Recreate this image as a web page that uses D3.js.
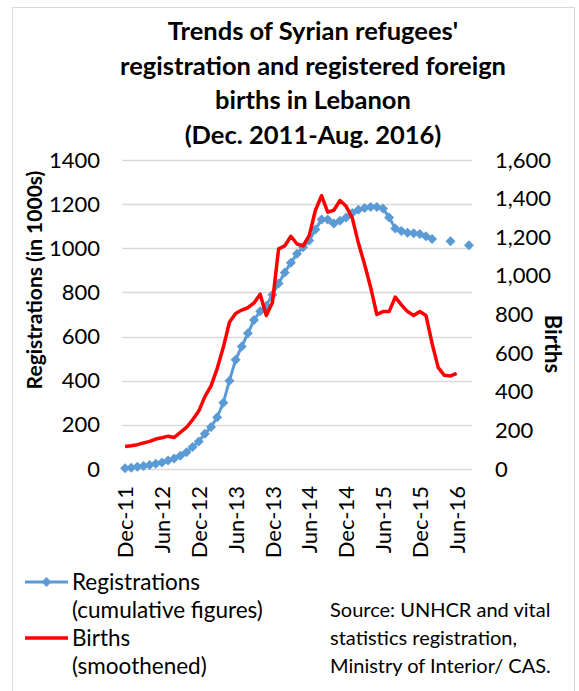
<!DOCTYPE html>
<meta charset="utf-8">
<body style="margin:0;background:#fff">
<svg width="579" height="691"></svg>
<script src="https://d3js.org/d3.v7.min.js"></script>
<script>

// monthly categories, Dec 2011 - Aug 2016
var months = ["Dec-11","Jan-12","Feb-12","Mar-12","Apr-12","May-12","Jun-12","Jul-12","Aug-12","Sep-12","Oct-12","Nov-12",
  "Dec-12","Jan-13","Feb-13","Mar-13","Apr-13","May-13","Jun-13","Jul-13","Aug-13","Sep-13","Oct-13","Nov-13",
  "Dec-13","Jan-14","Feb-14","Mar-14","Apr-14","May-14","Jun-14","Jul-14","Aug-14","Sep-14","Oct-14","Nov-14",
  "Dec-14","Jan-15","Feb-15","Mar-15","Apr-15","May-15","Jun-15","Jul-15","Aug-15","Sep-15","Oct-15","Nov-15",
  "Dec-15","Jan-16","Feb-16","Mar-16","Apr-16","May-16","Jun-16","Jul-16","Aug-16"];

// registrations in 1000s (cumulative), null = no figure
var registrations = [3,6,10,14,18,24,30,38,48,60,76,100,
  125,160,190,235,300,400,495,555,615,675,715,740,
  790,840,890,935,975,1005,1035,1085,1130,1130,1112,1125,
  1140,1160,1175,1182,1187,1187,1180,1140,1090,1078,1070,1068,
  1065,1055,1042,null,null,1032,null,null,1014];

// births (smoothened)
var births = [116,120,126,135,143,155,162,170,163,190,215,255,
  300,375,430,520,630,760,805,823,835,860,905,795,
  862,1140,1155,1205,1165,1155,1210,1340,1415,1330,1340,1390,
  1360,1300,1170,1060,940,800,815,815,890,850,815,795,
  815,795,650,525,485,482,495,null,null];

var tickMonths = ["Dec-11","Jun-12","Dec-12","Jun-13","Dec-13","Jun-14","Dec-14","Jun-15","Dec-15","Jun-16"];
var leftTicks = [0,200,400,600,800,1000,1200,1400];
var rightTicks = [0,200,400,600,800,1000,1200,1400,1600];

var titleLines = ["Trends of Syrian refugees'", "registration and registered foreign", "births in Lebanon", "(Dec. 2011-Aug. 2016)"];
var sourceLines = ["Source: UNHCR and vital", "statistics registration,", "Ministry of Interior/ CAS."];

var blue = "#5b9bd5", red = "#ff0000";
var font = "Lato, 'Open Sans', sans-serif";

var svg = d3.select("svg");

// outer frame
svg.append("rect")
    .attr("x", 12.5).attr("y", 7.5)
    .attr("width", 562).attr("height", 700)
    .attr("fill", "none")
    .attr("stroke", "#d9d9d9");

// title
svg.append("g").selectAll("text")
    .data(titleLines)
  .enter().append("text")
    .attr("x", 313)
    .attr("y", function(d, i) { return 40 + i * 34.5; })
    .attr("text-anchor", "middle")
    .attr("font-family", font)
    .attr("font-weight", "bold")
    .attr("font-size", 25.5)
    .attr("fill", "#000")
    .text(function(d) { return d; });

var x = d3.scalePoint()
    .domain(months)
    .range([122, 472])
    .padding(0.5);

var yL = d3.scaleLinear().domain([0, 1400]).range([469, 160]);
var yR = d3.scaleLinear().domain([0, 1600]).range([469, 160]);

// gridlines
svg.append("g").selectAll("line")
    .data(leftTicks)
  .enter().append("line")
    .attr("x1", 122).attr("x2", 472)
    .attr("y1", function(d) { return Math.round(yL(d)) + 0.5; })
    .attr("y2", function(d) { return Math.round(yL(d)) + 0.5; })
    .attr("stroke", "#d9d9d9")
    .attr("stroke-width", 1.3);

// left axis
var gl = svg.append("g")
    .attr("transform", "translate(122,0)")
    .call(d3.axisLeft(yL).tickValues(leftTicks).tickSize(0).tickPadding(22).tickFormat(d3.format("d")));
gl.select(".domain").remove();
gl.selectAll("text").attr("font-family", font).attr("font-size", 22).attr("fill", "#000");

// right axis
var gr = svg.append("g")
    .attr("transform", "translate(472,0)")
    .call(d3.axisRight(yR).tickValues(rightTicks).tickSize(0).tickPadding(23).tickFormat(d3.format(",")));
gr.select(".domain").remove();
gr.selectAll("text").attr("font-family", font).attr("font-size", 22).attr("fill", "#000");

// x axis labels
var gx = svg.append("g")
    .attr("transform", "translate(0,469)")
    .call(d3.axisBottom(x).tickValues(tickMonths).tickSize(0).tickPadding(0));
gx.select(".domain").remove();
gx.selectAll("text")
    .attr("font-family", font).attr("font-size", 22).attr("fill", "#000")
    .attr("transform", "rotate(-90)")
    .attr("text-anchor", "end")
    .attr("x", -17).attr("y", 0).attr("dy", "0.35em");

// axis titles
svg.append("text")
    .attr("transform", "translate(35,280) rotate(-90)")
    .attr("text-anchor", "middle").attr("dy", "0.35em")
    .attr("font-family", font).attr("font-weight", "bold").attr("font-size", 21)
    .text("Registrations (in 1000s)");

svg.append("text")
    .attr("transform", "translate(553,344) rotate(90)")
    .attr("text-anchor", "middle").attr("dy", "0.35em")
    .attr("font-family", font).attr("font-weight", "bold").attr("font-size", 22)
    .text("Births");

// registrations line + diamonds
var lineL = d3.line()
    .defined(function(d) { return d[1] != null; })
    .x(function(d) { return x(d[0]); })
    .y(function(d) { return yL(d[1]); });

var regData = months.map(function(m, i) { return [m, registrations[i]]; });

svg.append("path")
    .datum(regData)
    .attr("fill", "none")
    .attr("stroke", blue)
    .attr("stroke-width", 3)
    .attr("d", lineL);

var diamond = d3.symbol().type(d3.symbolSquare).size(50);

svg.append("g").selectAll("path")
    .data(regData.filter(function(d) { return d[1] != null; }))
  .enter().append("path")
    .attr("d", diamond)
    .attr("fill", blue)
    .attr("transform", function(d) { return "translate(" + x(d[0]) + "," + yL(d[1]) + ") rotate(45)"; });

// births line
var lineR = d3.line()
    .defined(function(d) { return d[1] != null; })
    .x(function(d) { return x(d[0]); })
    .y(function(d) { return yR(d[1]); });

svg.append("path")
    .datum(months.map(function(m, i) { return [m, births[i]]; }))
    .attr("fill", "none")
    .attr("stroke", red)
    .attr("stroke-width", 3.5)
    .attr("stroke-linejoin", "round")
    .attr("d", lineR);

// legend
var legend = svg.append("g");
legend.append("line")
    .attr("x1", 25).attr("x2", 68).attr("y1", 582).attr("y2", 582)
    .attr("stroke", blue).attr("stroke-width", 3);
legend.append("path")
    .attr("d", diamond)
    .attr("fill", blue)
    .attr("transform", "translate(46.5,582) rotate(45)");
legend.append("line")
    .attr("x1", 25).attr("x2", 68).attr("y1", 638).attr("y2", 638)
    .attr("stroke", red).attr("stroke-width", 3.5);

var legendLines = ["Registrations", "(cumulative figures)", "Births", "(smoothened)"];
legend.selectAll("text")
    .data(legendLines)
  .enter().append("text")
    .attr("x", 72)
    .attr("y", function(d, i) { return 582 + i * 28; })
    .attr("dy", "0.35em")
    .attr("font-family", font).attr("font-size", 22.5).attr("fill", "#000")
    .text(function(d) { return d; });

// source note
svg.append("g").selectAll("text")
    .data(sourceLines)
  .enter().append("text")
    .attr("x", 330)
    .attr("y", function(d, i) { return 610 + i * 28; })
    .attr("dy", "0.35em")
    .attr("font-family", font).attr("font-size", 20).attr("fill", "#000")
    .text(function(d) { return d; });

</script>
</body>
